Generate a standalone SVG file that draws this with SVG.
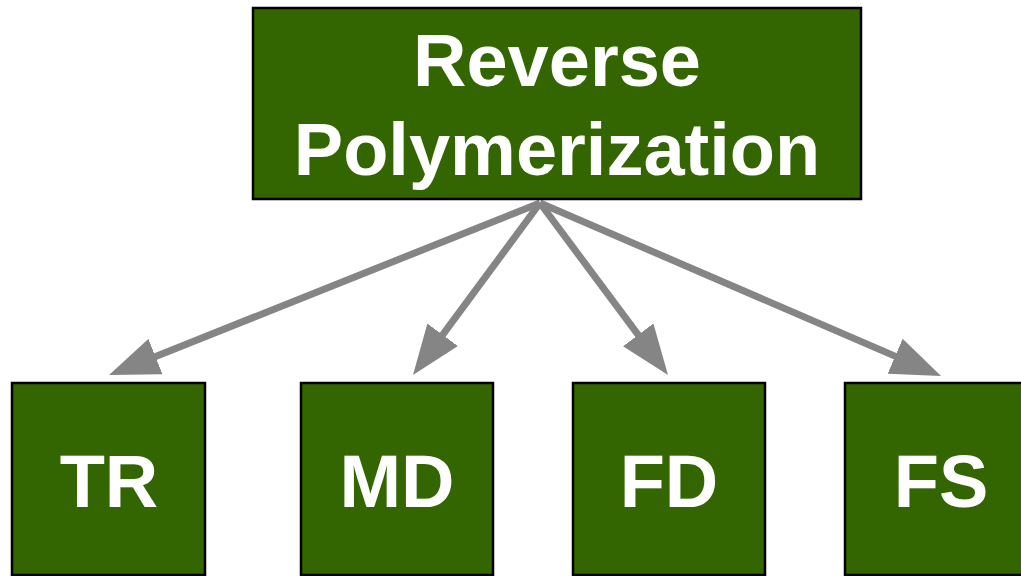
<svg xmlns="http://www.w3.org/2000/svg" width="1021" height="576" viewBox="0 0 1021 576">
<style>
.box{fill:#336600;stroke:#000;stroke-width:2.5}
.lbl{fill:#fff;font-family:"Liberation Sans",Arial,sans-serif;font-weight:bold;font-size:74px;text-anchor:middle}
.edge{stroke:#858585;stroke-width:7;fill:none}
</style>
<defs>
<marker id="ah" viewBox="0 0 50 38" refX="20" refY="19" markerWidth="50" markerHeight="38" markerUnits="userSpaceOnUse" orient="auto">
<path d="M0,0 L50,19 L0,38 Z" fill="#858585"/>
</marker>
</defs>
<rect width="1021" height="576" fill="#fff"/>
<g id="connectors">
<line class="edge" x1="540" y1="203" x2="136.9" y2="363.9" marker-end="url(#ah)"/>
<line class="edge" x1="540" y1="203" x2="430.8" y2="350.9" marker-end="url(#ah)"/>
<line class="edge" x1="540" y1="203" x2="650.1" y2="350.9" marker-end="url(#ah)"/>
<line class="edge" x1="540" y1="203" x2="913.5" y2="364.1" marker-end="url(#ah)"/>
</g>
<g id="root">
<rect class="box" x="253" y="8" width="608" height="191"/>
<text class="lbl" x="557" y="86">Reverse</text>
<text class="lbl" x="557" y="175">Polymerization</text>
</g>
<g id="tr">
<rect class="box" x="12" y="383" width="193" height="192"/>
<text class="lbl" x="109" y="507">TR</text>
</g>
<g id="md">
<rect class="box" x="301" y="383" width="192" height="192"/>
<text class="lbl" x="397" y="507">MD</text>
</g>
<g id="fd">
<rect class="box" x="573" y="383" width="192" height="192"/>
<text class="lbl" x="669" y="507">FD</text>
</g>
<g id="fs">
<rect class="box" x="845" y="383" width="193" height="192"/>
<text class="lbl" x="941" y="507">FS</text>
</g>
</svg>
